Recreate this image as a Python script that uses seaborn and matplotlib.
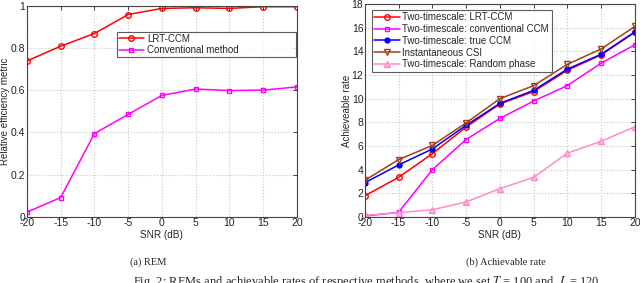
import numpy as np
import pandas as pd
import matplotlib
matplotlib.use('Agg')
import matplotlib.pyplot as plt
import seaborn as sns

# data
snr = [-20, -15, -10, -5, 0, 5, 10, 15, 20]

rem_lrt = [0.738, 0.808, 0.868, 0.958, 0.987, 0.990, 0.987, 0.995, 0.995]
rem_conv = [0.022, 0.091, 0.394, 0.485, 0.575, 0.605, 0.598, 0.600, 0.615]

rate_lrt = [1.8, 3.35, 5.35, 7.6, 9.55, 10.6, 12.4, 13.7, 15.6]
rate_conv = [0.08, 0.4, 4.0, 6.55, 8.33, 9.8, 11.1, 13.0, 14.55]
rate_true = [2.9, 4.4, 5.75, 7.75, 9.6, 10.7, 12.5, 13.75, 15.65]
rate_inst = [3.1, 4.85, 6.05, 7.95, 10.0, 11.1, 12.9, 14.2, 16.1]
rate_rand = [0.14, 0.37, 0.62, 1.27, 2.4, 3.35, 5.4, 6.4, 7.63]

sns.set_style('white')
plt.rcParams['font.family'] = ['Liberation Sans', 'DejaVu Sans']
plt.rcParams['mathtext.fontset'] = 'stix'
plt.rcParams['axes.unicode_minus'] = False

fig = plt.figure(figsize=(6.4, 2.83), dpi=100)
ax1 = fig.add_axes([0.042, 0.234, 0.422, 0.746])
ax2 = fig.add_axes([0.570, 0.233, 0.422, 0.753])


def draw(ax, y, color, marker, label, mfc='none', ms=4):
    df = pd.DataFrame({'snr': snr, 'val': y})
    sns.lineplot(data=df, x='snr', y='val', ax=ax, color=color, marker=marker,
                 markersize=ms, markerfacecolor=mfc, markeredgecolor=color,
                 markeredgewidth=1.0, linewidth=1.1, label=label)


def style(ax, ylim, yticks, ylabel, ylab_x):
    ax.set_xlim(-20, 20)
    ax.set_ylim(*ylim)
    ax.set_xticks(snr)
    ax.set_yticks(yticks)
    ax.grid(True, color='#c8c8c8', linestyle=':', linewidth=0.8)
    ax.tick_params(direction='in', length=3, width=0.6, labelsize=7.5, pad=1,
                   top=True, right=True, colors='#222222')
    for s in ax.spines.values():
        s.set_color('#444444')
        s.set_linewidth(0.8)
    ax.set_xlabel('SNR (dB)', fontsize=7.2, labelpad=1)
    ax.set_ylabel(ylabel, fontsize=7, va='center')
    ax.yaxis.set_label_coords(ylab_x, 0.5)


# (a) REM
draw(ax1, rem_lrt, '#ff0000', 'o', 'LRT-CCM')
draw(ax1, rem_conv, '#ff00ff', 's', 'Conventional method', ms=3.5)
style(ax1, (0, 1), [0, 0.2, 0.4, 0.6, 0.8, 1], 'Relative efficiency metric', -0.08)
ax1.set_yticklabels(['0', '0.2', '0.4', '0.6', '0.8', '1'])
ax1.legend(loc='lower left', bbox_to_anchor=(0.333, 0.757, 0.663, 0.114),
           mode='expand', fontsize=7, frameon=True, fancybox=False,
           edgecolor='#333333', borderpad=0.2, labelspacing=0.15,
           handlelength=2.6, handletextpad=0.3, borderaxespad=0)

# (b) achievable rate
draw(ax2, rate_lrt, '#ff0000', 'o', 'Two-timescale: LRT-CCM')
draw(ax2, rate_conv, '#ff00ff', 's', 'Two-timescale: conventional CCM', ms=3.5)
draw(ax2, rate_true, '#0000ff', 'o', 'Two-timescale: true CCM', mfc='#0000ff', ms=3.5)
draw(ax2, rate_inst, '#a0401a', 'v', 'Instantaneous CSI', ms=4.5)
draw(ax2, rate_rand, '#ff8cc8', '^', 'Two-timescale: Random phase', mfc='#ffb6dc', ms=4.5)
style(ax2, (0, 18), list(range(0, 19, 2)), 'Achieveable rate', -0.067)
ax2.legend(loc='upper left', bbox_to_anchor=(0.026, 0.972), fontsize=7,
           frameon=True, fancybox=False, edgecolor='#333333', borderpad=0.25,
           labelspacing=0.18, handlelength=2.6, handletextpad=0.3,
           borderaxespad=0)

for leg in (ax1.get_legend(), ax2.get_legend()):
    leg.get_frame().set_linewidth(0.8)

fig.text(0.231, 1 - 262 / 283, '(a) REM', ha='center', va='center',
         fontsize=7.5, family='Liberation Serif')
fig.text(0.791, 1 - 262 / 283, '(b) Achievable rate', ha='center', va='center',
         fontsize=7.5, family='Liberation Serif')
fig.text(0.208, 1 - 274 / 283,
         'Fig. 2: REMs and achievable rates of respective methods, where we set $T$ = 100 and  $L$ = 120.',
         ha='left', va='top', fontsize=9, family='Liberation Serif')

fig.savefig('out.png', dpi=100)
